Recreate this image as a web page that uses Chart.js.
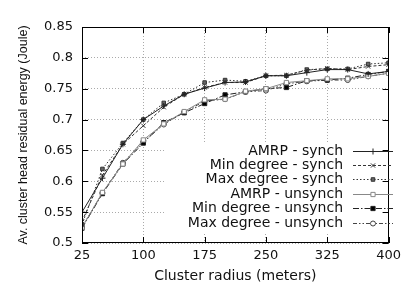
<!DOCTYPE html>
<html>
<head>
<meta charset="utf-8">
<script src="https://cdn.jsdelivr.net/npm/chart.js@4.4.1/dist/chart.umd.min.js"></script>
<style>
  html, body { margin: 0; padding: 0; background: #fff; }
  #wrap { width: 406px; height: 286px; }
</style>
</head>
<body>
<div id="wrap"><canvas id="energyChart" width="406" height="286"></canvas></div>
<script>
// cluster radius (meters)
const radius = [25, 50, 75, 100, 125, 150, 175, 200, 225, 250, 275, 300, 325, 350, 375, 400];
const xTicks = [25, 100, 175, 250, 325, 400];
const yTicks = [0.5, 0.55, 0.6, 0.65, 0.7, 0.75, 0.8, 0.85];

// av. cluster head residual energy (Joule)
const amrpSynch   = [0.55, 0.605, 0.66, 0.70, 0.722, 0.741, 0.751, 0.76, 0.761, 0.771, 0.771, 0.776, 0.781, 0.781, 0.774, 0.778];
const minSynch    = [0.535, 0.61, 0.66, 0.69, 0.72, 0.741, 0.752, 0.76, 0.76, 0.771, 0.772, 0.78, 0.783, 0.781, 0.786, 0.789];
const maxSynch    = [0.53, 0.62, 0.662, 0.70, 0.727, 0.741, 0.76, 0.764, 0.762, 0.771, 0.771, 0.781, 0.782, 0.782, 0.79, 0.792];
const amrpUnsynch = [0.525, 0.582, 0.628, 0.667, 0.693, 0.713, 0.732, 0.733, 0.746, 0.75, 0.76, 0.763, 0.766, 0.766, 0.77, 0.775];
const minUnsynch  = [0.524, 0.58, 0.628, 0.662, 0.695, 0.711, 0.726, 0.74, 0.745, 0.75, 0.752, 0.763, 0.764, 0.767, 0.773, 0.778];
const maxUnsynch  = [0.526, 0.581, 0.63, 0.664, 0.692, 0.712, 0.73, 0.733, 0.745, 0.747, 0.758, 0.762, 0.764, 0.764, 0.77, 0.775];

const seriesNames = ['AMRP - synch', 'Min degree - synch', 'Max degree - synch',
                     'AMRP - unsynch', 'Min degree - unsynch', 'Max degree - unsynch'];
const seriesValues = [amrpSynch, minSynch, maxSynch, amrpUnsynch, minUnsynch, maxUnsynch];

// one style per series (gnuplot like)
const styles = [
    { color: '#222', dash: [], point: 'cross', r: 3, fill: '#222' },
    { color: '#333', dash: [3, 2], point: 'crossRot', r: 3, fill: '#333' },
    { color: '#333', dash: [1.5, 2], point: 'rect', r: 2.5, fill: '#666' },
    { color: '#888', dash: [], point: 'rect', r: 3, fill: '#fff' },
    { color: '#222', dash: [6, 2, 1.5, 2], point: 'rect', r: 3, fill: '#000' },
    { color: '#444', dash: [4, 2, 1.5, 2, 1.5, 2], point: 'circle', r: 2.5, fill: '#fff' },
];

const datasets = seriesNames.map((name, i) => ({
    label: name,
    data: radius.map((x, j) => ({ x: x, y: seriesValues[i][j] })),
    borderColor: styles[i].color,
    borderWidth: 1,
    borderDash: styles[i].dash,
    pointStyle: styles[i].point,
    pointRadius: styles[i].r,
    pointBorderColor: styles[i].color,
    pointBackgroundColor: styles[i].fill,
    pointBorderWidth: 1,
    tension: 0,
    fill: false,
}));

// white key box + legend + inward tick marks + frame
const gnuplotKey = {
    id: 'gnuplotKey',
    beforeDatasetsDraw(chart) {
        const ctx = chart.ctx;
        ctx.save();
        ctx.fillStyle = '#fff';
        ctx.fillRect(165, 142, 230, 92);
        ctx.restore();
    },
    afterDraw(chart) {
        const ctx = chart.ctx;
        const a = chart.chartArea;
        const xs = chart.scales.x, ys = chart.scales.y;
        ctx.save();
        // frame
        ctx.strokeStyle = '#000';
        ctx.lineWidth = 1;
        ctx.setLineDash([]);
        ctx.strokeRect(Math.round(a.left) + 0.5, Math.round(a.top) + 0.5,
                       Math.round(a.right - a.left) - 1, Math.round(a.bottom - a.top) - 1);
        // inward ticks
        ctx.beginPath();
        xTicks.forEach(v => {
            const px = Math.round(xs.getPixelForValue(v)) + 0.5;
            ctx.moveTo(px, a.bottom); ctx.lineTo(px, a.bottom - 6);
            ctx.moveTo(px, a.top); ctx.lineTo(px, a.top + 6);
        });
        yTicks.forEach(v => {
            const py = Math.round(ys.getPixelForValue(v)) + 0.5;
            ctx.moveTo(a.left, py); ctx.lineTo(a.left + 6, py);
            ctx.moveTo(a.right, py); ctx.lineTo(a.right - 6, py);
        });
        ctx.stroke();

        // legend
        ctx.font = '14px "DejaVu Sans"';
        ctx.textAlign = 'right';
        ctx.textBaseline = 'middle';
        chart.data.datasets.forEach((ds, i) => {
            const y = Math.round(150.5 + i * 14.4) + 0.5;
            ctx.fillStyle = '#111';
            ctx.fillText(ds.label, 343, y);
            ctx.strokeStyle = ds.borderColor;
            ctx.setLineDash(ds.borderDash);
            ctx.beginPath();
            ctx.moveTo(353, y);
            ctx.lineTo(393, y);
            ctx.stroke();
            ctx.setLineDash([]);
            ctx.fillStyle = ds.pointBackgroundColor;
            ctx.strokeStyle = ds.pointBorderColor;
            Chart.helpers.drawPoint(ctx, {
                pointStyle: ds.pointStyle,
                radius: ds.pointRadius,
                borderWidth: 1,
                rotation: 0,
            }, 373, y);
        });
        ctx.restore();
    }
};

new Chart(document.getElementById('energyChart'), {
    type: 'line',
    data: { datasets: datasets },
    plugins: [gnuplotKey],
    options: {
        responsive: false,
        animation: false,
        layout: { padding: { top: 27, right: 10, left: 0, bottom: 0 } },
        plugins: { legend: { display: false }, tooltip: { enabled: false } },
        scales: {
            x: {
                type: 'linear',
                min: 25,
                max: 400,
                afterBuildTicks: s => { s.ticks = xTicks.map(v => ({ value: v })); },
                afterFit: s => { s.height = 43; },
                grid: { color: '#aaa', lineWidth: 1, drawTicks: false },
                border: { display: false, dash: [1, 2] },
                ticks: { color: '#111', padding: 5, font: { family: 'DejaVu Sans', size: 13 }, maxRotation: 0 },
                title: { display: true, text: 'Cluster radius (meters)', color: '#111',
                         font: { family: 'DejaVu Sans', size: 14 }, padding: { top: 0, bottom: 1 } },
            },
            y: {
                min: 0.5,
                max: 0.85,
                afterBuildTicks: s => { s.ticks = yTicks.map(v => ({ value: v })); },
                afterFit: s => { s.width = 82; },
                grid: { color: '#aaa', lineWidth: 1, drawTicks: false },
                border: { display: false, dash: [1, 2] },
                ticks: { color: '#111', padding: 9, font: { family: 'DejaVu Sans', size: 13 },
                         callback: v => String(Number(v.toFixed(2))) },
                title: { display: true, text: 'Av. cluster head residual energy (Joule)', color: '#111',
                         font: { family: 'Liberation Sans', size: 12.5 }, padding: { top: 16, bottom: 0 } },
            }
        }
    }
});
</script>
</body>
</html>
